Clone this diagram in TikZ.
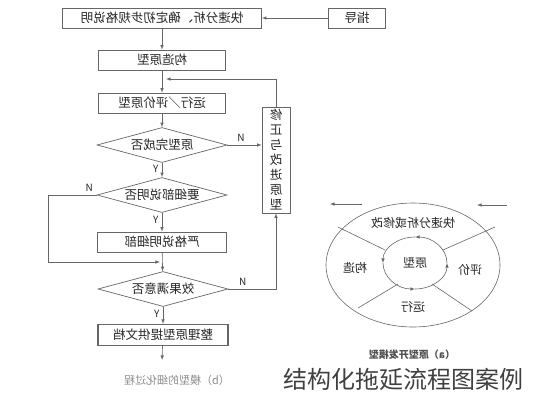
\documentclass[tikz,border=0pt]{standalone}
\usepackage{graphicx}
\usepackage{fontspec}
\newfontfamily\cjk{Noto Sans CJK SC}
\usetikzlibrary{shapes.geometric}
\definecolor{linegray}{HTML}{666666}
\definecolor{inkgray}{HTML}{262626}
\definecolor{capgray}{HTML}{8C8C8C}
\newcommand{\flipped}[1]{\reflectbox{#1}}
\tikzset{
  procbox/.style={draw=linegray, line width=0.7pt, minimum height=20pt, inner sep=1pt,
    text=inkgray, font=\cjk\fontsize{12.5}{14}\selectfont},
  decision/.style={diamond, draw=linegray, line width=0.7pt, aspect=3.8, inner sep=0pt,
    minimum width=130pt, minimum height=35pt, text=inkgray, font=\cjk\fontsize{12.5}{14}\selectfont},
  flowline/.style={linegray, line width=0.6pt},
  yn/.style={text=inkgray, font=\cjk\fontsize{10}{12}\selectfont},
  ringtext/.style={text=inkgray, font=\cjk\fontsize{12}{14}\selectfont},
}
\begin{document}
\begin{tikzpicture}[x=1pt, y=-1pt]
\useasboundingbox (0,0) rectangle (533,400);

% flow of the refinement
\node[procbox, minimum width=199pt] (spec) at (162,18) {\flipped{快速分析、确定初步规格说明}};
\node[procbox, minimum width=57pt] (guide) at (357,18) {\flipped{指导}};
\node[procbox, minimum width=127pt] (build) at (162,60) {\flipped{构造原型}};
\node[procbox, minimum width=127pt] (run) at (162,103) {\flipped{运行／评价原型}};
\node[decision] (done) at (162,145) {\flipped{原型完成否}};
\node[decision] (detail) at (162,195) {\flipped{要细部说明否}};
\node[procbox, minimum width=129pt] (strict) at (162,242) {\flipped{严格说明细部}};
\node[decision] (ok) at (163,289) {\flipped{效果满意否}};
\node[procbox, minimum width=130pt, minimum height=21pt, line width=1.2pt] (doc) at (163,335) {\flipped{整理原型提供文档}};
\node[procbox, minimum width=28pt, minimum height=106pt, align=center,
  font=\cjk\fontsize{12.5}{15}\selectfont] (fix) at (276,160)
  {\flipped{修}\\\flipped{正}\\\flipped{与}\\\flipped{改}\\\flipped{进}\\\flipped{原}\\\flipped{型}};
\coordinate (out) at (162,360);
\coordinate (back) at (166,79);
\coordinate (merge) at (160,262);

\draw[flowline, -latex] (guide) -- (spec);
\draw[flowline, -latex] (spec) -- (build);
\draw[flowline, -latex] (build) -- (run);
\draw[flowline, -latex] (run) -- (done);
\draw[flowline, -latex] (done) -- node[yn, left, pos=0.45] {Y} (detail);
\draw[flowline, -latex] (detail) -- node[yn, left, pos=0.35] {Y} (strict);
\draw[flowline, -latex] (strict) -- (ok);
\draw[flowline, -latex] (ok) -- node[yn, left, pos=0.4] {Y} (doc);
\draw[flowline, -latex] (doc) -- (out);
\draw[flowline, -latex] (done.east) -- node[yn, above, pos=0.4] {N} (fix.west |- done.east);
\draw[flowline, -latex] (detail.west) -- node[yn, above, pos=0.15] {N} (48,195) -- (48,262) -- (merge);
\draw[flowline, -latex] (ok.east) -- node[yn, above, pos=0.3] {N} (fix.south |- ok.east) -- (fix.south);
\draw[flowline, -latex] (fix.north) -- (fix.north |- back) -- (back);

\node[text=capgray, font=\cjk\fontsize{11}{13}\selectfont] (capb) at (177,380) {\flipped{（b）模型的细化过程}};

% prototype ring
\draw[flowline] (413,265) ellipse [x radius=87, y radius=62];
\draw[flowline] (338,227) -- (385,250);
\draw[flowline] (443,250) -- (495,227);
\draw[flowline] (398,284) -- (358,308);
\draw[flowline] (432,284) -- (472,311);
\begin{scope}[shift={(415,263)}, y=1pt]
  \draw[flowline, -latex] (0:32 and 26) arc[start angle=0, end angle=90, x radius=32, y radius=26];
  \draw[flowline, -latex] (90:32 and 26) arc[start angle=90, end angle=180, x radius=32, y radius=26];
  \draw[flowline, -latex] (180:32 and 26) arc[start angle=180, end angle=270, x radius=32, y radius=26];
  \draw[flowline, -latex] (270:32 and 26) arc[start angle=270, end angle=360, x radius=32, y radius=26];
\end{scope}
\node[ringtext] (core) at (415,263) {\flipped{原型}};
\node[ringtext] (revise) at (413,223) {\flipped{快速分析或修改}};
\node[ringtext] (make) at (355,268) {\flipped{构造}};
\node[ringtext] (judge) at (470,270) {\flipped{评价}};
\node[ringtext] (exec) at (413,307) {\flipped{运行}};
\coordinate (inR) at (507,205);
\coordinate (inL) at (477,205);
\coordinate (outR) at (362,204);
\coordinate (outL) at (330,204);
\draw[flowline, -latex] (inR) -- (inL);
\draw[flowline, -latex] (outR) -- (outL);
\node[text=inkgray!80, font=\cjk\bfseries\fontsize{10}{12}\selectfont] (capa) at (412,355) {\flipped{（a）原型开发模型}};

\node[text=black!75, font=\cjk\fontsize{24}{28}\selectfont] (mark) at (403,379) {结构化拖延流程图案例};
\end{tikzpicture}
\end{document}
